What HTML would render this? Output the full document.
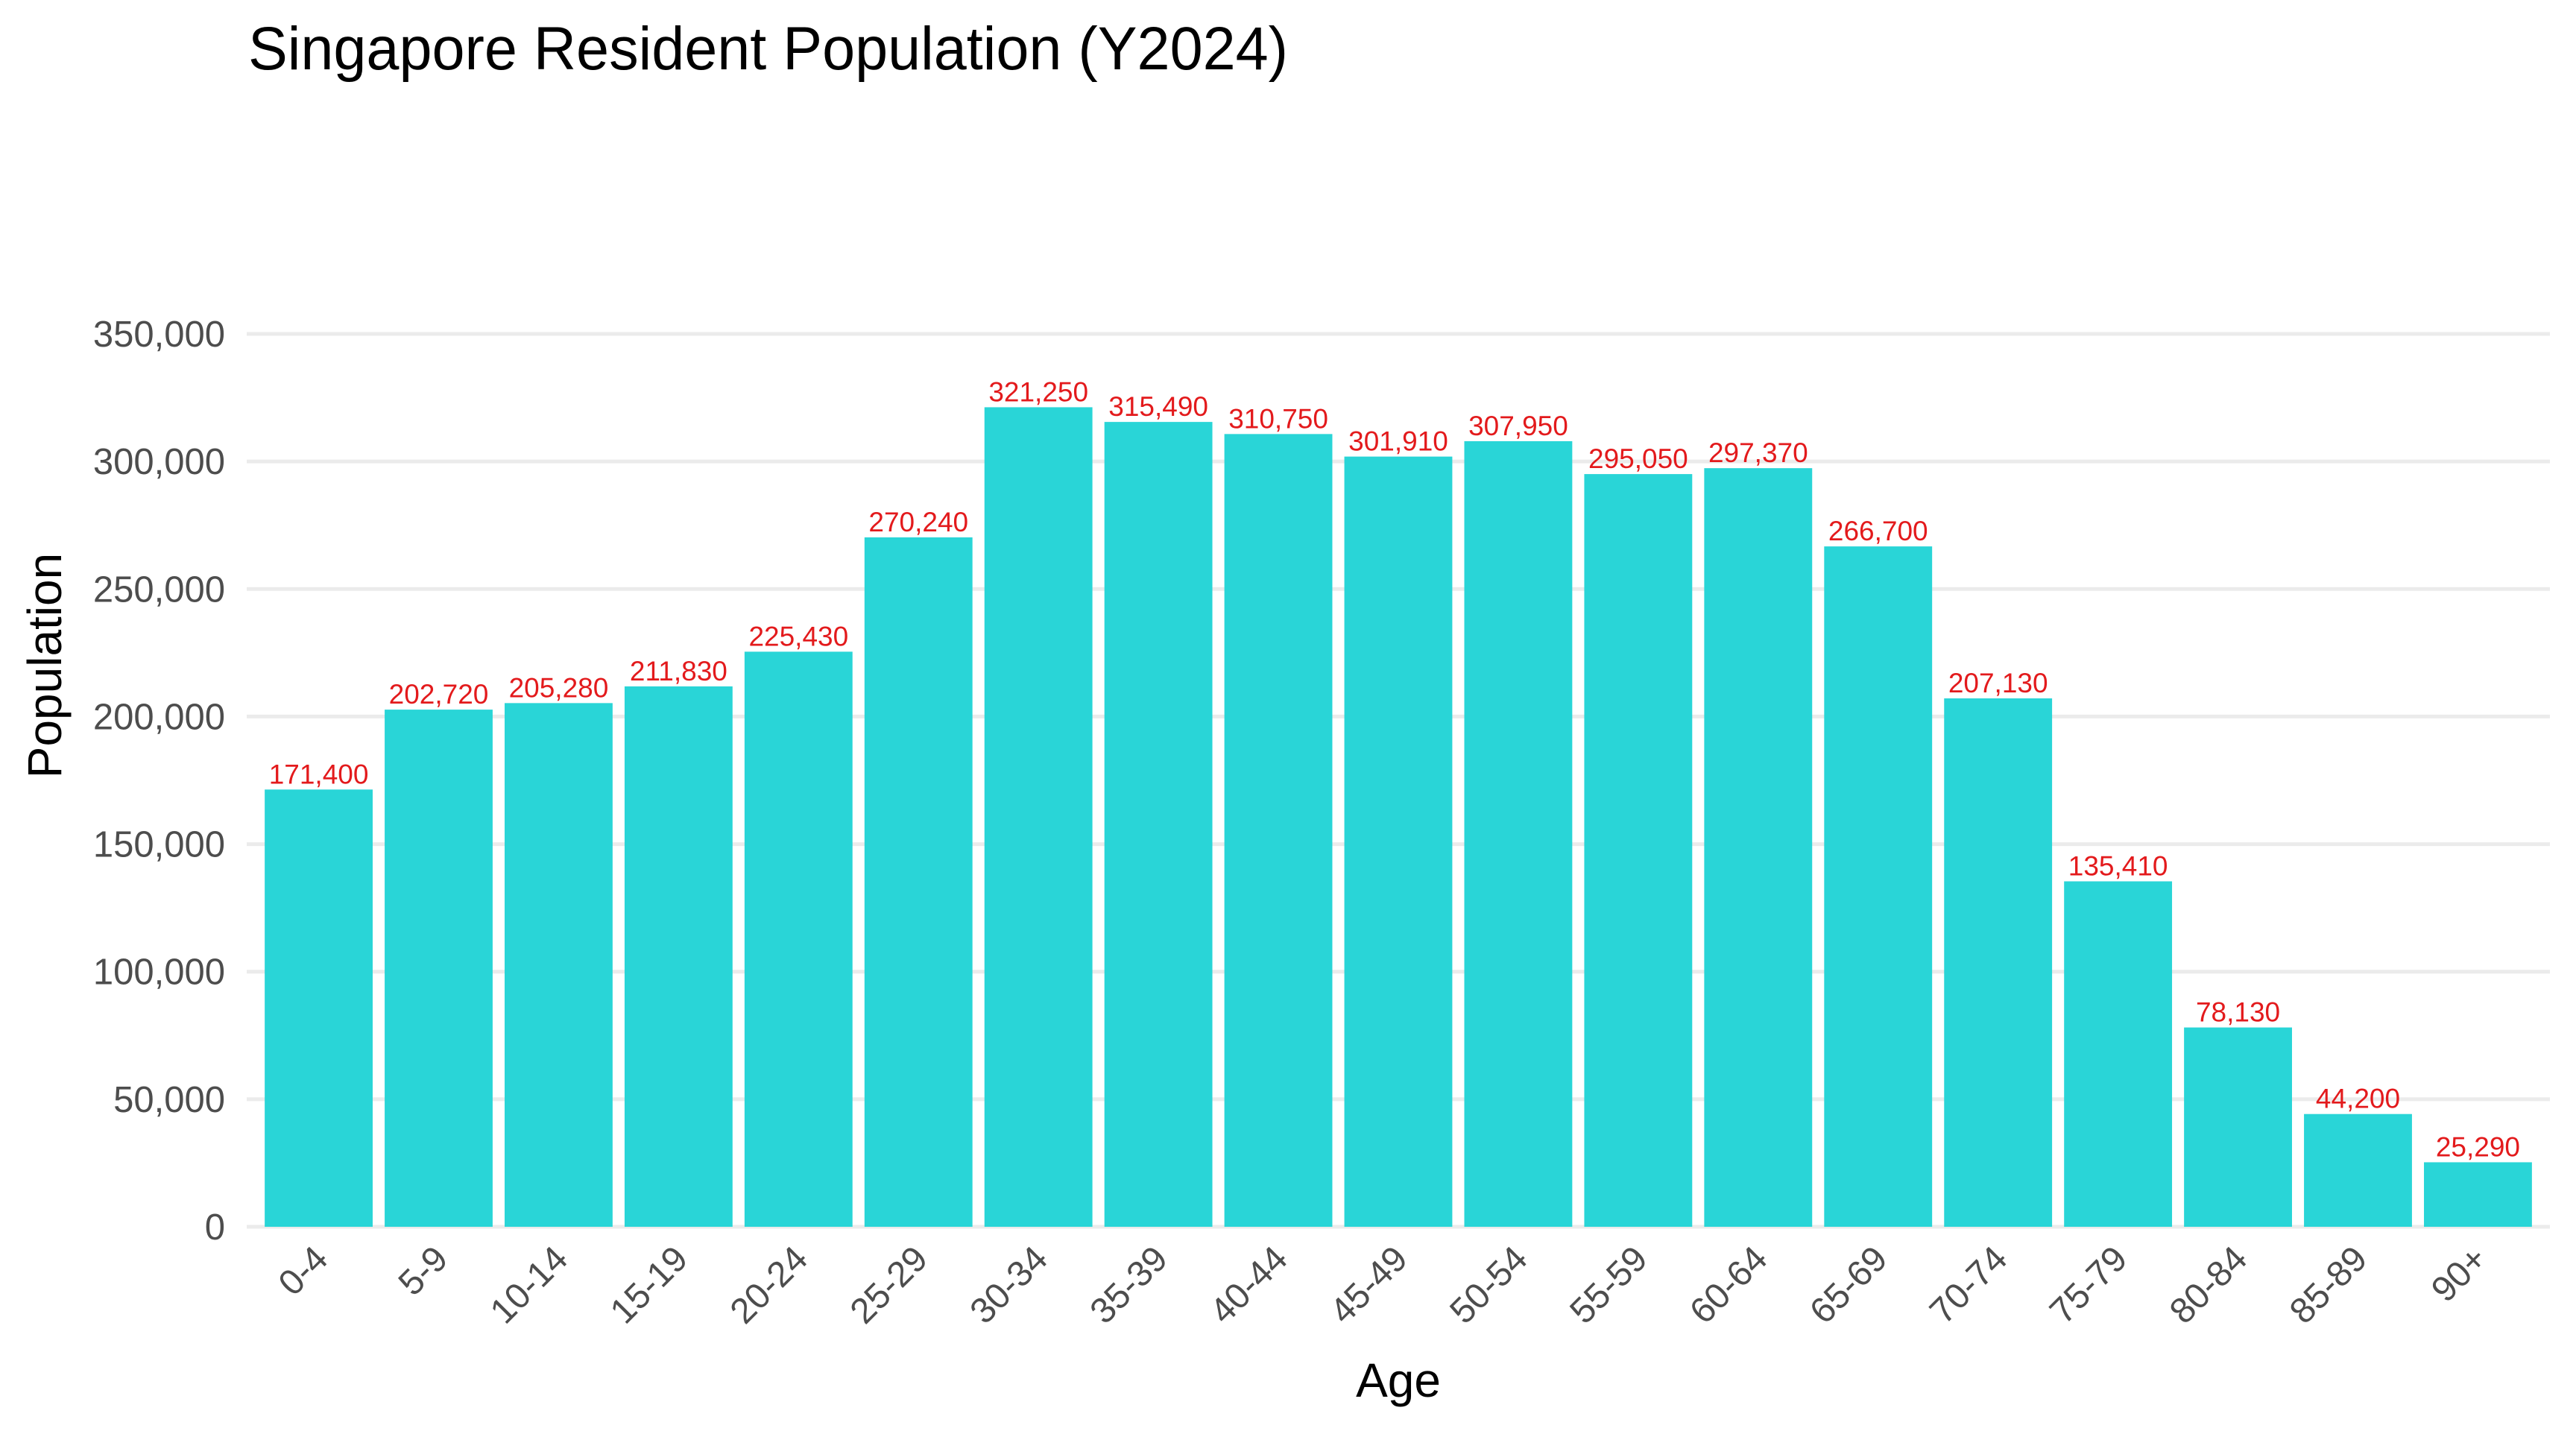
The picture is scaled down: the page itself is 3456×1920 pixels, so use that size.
<!DOCTYPE html>
<html><head><meta charset="utf-8"><style>
html,body{margin:0;padding:0;background:#fff;}
svg{display:block;font-family:"Liberation Sans",Arial,sans-serif;}
</style></head><body>
<svg id="chart" width="3456" height="1920" viewBox="0 0 3456 1920" xmlns="http://www.w3.org/2000/svg">
<text x="333" y="93" font-size="82" fill="#000" textLength="1395" lengthAdjust="spacingAndGlyphs">Singapore Resident Population (Y2024)</text>
<text transform="translate(82,893) rotate(-90)" text-anchor="middle" font-size="64" fill="#000">Population</text>
<text x="1876" y="1874" text-anchor="middle" font-size="64" fill="#000">Age</text>
<g id="grid"></g><g id="bars"></g><g id="labels"></g><g id="yticks"></g><g id="xticks"></g>
</svg>
<script>
const categories=["0-4","5-9","10-14","15-19","20-24","25-29","30-34","35-39","40-44","45-49","50-54","55-59","60-64","65-69","70-74","75-79","80-84","85-89","90+"];
const values=[171400,202720,205280,211830,225430,270240,321250,315490,310750,301910,307950,295050,297370,266700,207130,135410,78130,44200,25290];
const yTicks=[0,50000,100000,150000,200000,250000,300000,350000];
const yTickLabels=["0","50,000","100,000","150,000","200,000","250,000","300,000","350,000"];
const NS="http://www.w3.org/2000/svg";
const plotL=331,plotR=3421,y0=1646,y350=448;
const step=(plotR-plotL)/(categories.length+0.2);
function xCenter(i){return plotL+0.6*step+i*step;}
function yScale(v){return y0-(v/350000)*(y0-y350);}
function mk(tag,attrs,parent){const e=document.createElementNS(NS,tag);for(const k in attrs)e.setAttribute(k,attrs[k]);document.getElementById(parent).appendChild(e);return e;}
yTicks.forEach((t,i)=>{
  const g=mk('line',{x1:plotL,x2:plotR,y1:yScale(t),y2:yScale(t),stroke:'#ebebeb','stroke-width':5},'grid');
  
  
  const tx=mk('text',{x:302,y:yScale(t)+17,'text-anchor':'end','font-size':49,fill:'#4d4d4d'},'yticks');
  tx.textContent=yTickLabels[i];
  
  
});
const bw=step*0.9;
categories.forEach((c,i)=>{
  const cx=xCenter(i);
  const r=mk('rect',{x:cx-bw/2,y:yScale(values[i]),width:bw,height:y0-yScale(values[i]),fill:'#29d5d7'},'bars');
  
  
  const l=mk('text',{x:cx,y:yScale(values[i])-8,'text-anchor':'middle','font-size':37,fill:'#e31a1c'},'labels');
  l.textContent=values[i].toLocaleString('en-US');
  
  
  const xt=mk('text',{transform:'translate('+(cx+15)+',1692) rotate(-45)','text-anchor':'end','font-size':48,fill:'#4d4d4d'},'xticks');
  xt.textContent=c;
  
  
});
</script>
</body></html>
